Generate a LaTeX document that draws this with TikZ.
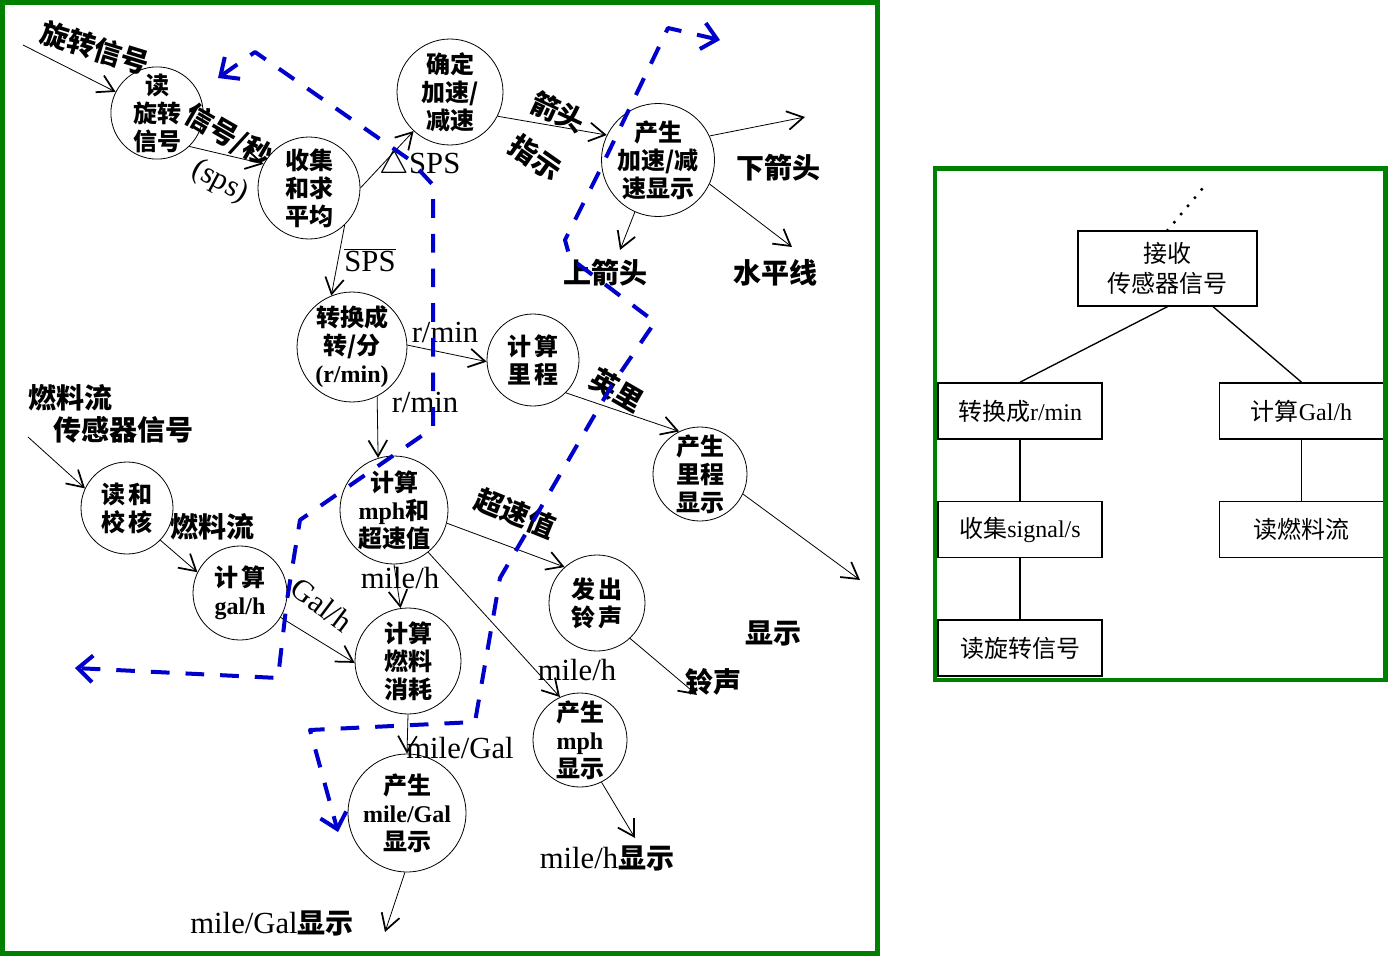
\documentclass[tikz,border=0pt]{standalone}
\usepackage{fontspec}
\setmainfont{Noto Sans CJK SC}
\newfontfamily\latfont{Liberation Serif}
\newcommand{\latn}[1]{{\latfont #1}}
\newcommand{\latbig}[1]{{\fontsize{23}{26}\selectfont\latfont\mdseries #1}}
\usepackage{tikz}
\usetikzlibrary{arrows.meta}
\definecolor{frameGreen}{RGB}{0,128,0}
\definecolor{flowBlue}{RGB}{0,0,205}

\begin{document}
\begin{tikzpicture}[
    x=0.75pt, y=-0.75pt,
    every node/.style={inner sep=0pt},
    proc/.style={circle,draw,line width=0.6pt,minimum size=#1*1.5pt,
                 align=center,font=\fontsize{18}{21}\selectfont\bfseries},
    proc/.default=48,
    lab/.style={font=\fontsize{21}{24}\selectfont\bfseries},
    latlab/.style={font=\fontsize{23}{26}\selectfont\latfont},
    arr/.style={-{Straight Barb[length=12pt,width=14pt,line width=1.3pt]},line width=0.6pt},
    bnd/.style={{Straight Barb[length=11pt,width=20pt]}-{Straight Barb[length=11pt,width=20pt]},
                flowBlue,line width=3pt,dash pattern=on 14pt off 12pt,line join=round},
    mod/.style={rectangle,draw,line width=1.2pt,minimum width=123pt,minimum height=42pt,
                align=center,font=\fontsize{18}{22}\selectfont},
    link/.style={line width=1pt},
    dotline/.style={line width=2.6pt,line cap=round,dash pattern=on 0pt off 8pt}
  ]
  \useasboundingbox (0,0) rectangle (1389,956);
  %% Left panel: the bubbles
  \node[proc=45] (rdsig)    at (157,113) {读\\旋转\\信号};
  \node[proc=51] (colavg)   at (309,188) {收集\\和求\\平均};
  \node[proc=53] (accdec)   at (450,92)  {确定\\加速/\\减速};
  \node[proc=52] (accdisp)  at (658,160) {产生\\加速/减\\速显示};
  \node[proc=50] (torpm)    at (352,347) {转换成\\转/分\\\latn{(r/min)}};
  \node[proc=46] (calcmi)   at (533,360) {计\,算\\里\,程};
  \node[proc=47] (midisp)   at (700,474) {产生\\里程\\显示};
  \node[proc=46] (rdfuel)   at (127,508) {读\,和\\校\,核};
  \node[proc=54] (calcmph)  at (394,510) {计算\\\latn{mph}和\\超速值};
  \node[proc=47] (calcgph)  at (240,593) {计\,算\\\latn{gal/h}};
  \node[proc=48] (bell)     at (597,603) {发\,出\\铃\,声};
  \node[proc=53] (calcfuel) at (408,661) {计算\\燃料\\消耗};
  \node[proc=47] (mphdisp)  at (580,740) {产生\\\latn{mph}\\显示};
  \node[proc=53] (mpgdisp)  at (407,813) {产生\\\latn{mile/Gal}\\显示};
  %% free ends
  \coordinate (rotin)   at (23,45);
  \coordinate (fuelin)  at (28,437);
  \coordinate (dnarr)   at (805,117);
  \coordinate (uparr)   at (620,250);
  \coordinate (hline)   at (792,247);
  \coordinate (miout)   at (860,580);
  \coordinate (bellout) at (697,695);
  \coordinate (mpgout)  at (385,932);
  \coordinate (mphout)  at (635,838);
  %% flows
  \draw[arr] (rotin) -- (rdsig.153);
  \draw[arr] (rdsig.-46) -- (colavg.152);
  \draw[arr] (colavg.0) -- (accdec.227);
  \draw[arr] (colavg.-46) -- (torpm.112);
  \draw[arr] (accdec.-27) -- (accdisp.154);
  \draw[arr] (accdisp.25) -- (dnarr);
  \draw[arr] (accdisp.-114) -- (uparr);
  \draw[arr] (accdisp.-25) -- (hline);
  \draw[arr] (torpm.2) -- (calcmi.182);
  \draw[arr] (torpm.-63) -- (calcmph.107);
  \draw[arr] (calcmi.-45) -- (midisp.116);
  \draw[arr] (midisp.-25) -- (miout);
  \draw[arr] (fuelin) -- (rdfuel.155);
  \draw[arr] (rdfuel.-44) -- (calcgph.154);
  \draw[arr] (calcgph.-31) -- (calcfuel.182);
  \draw[arr] (calcmph.-14) -- (bell.132);
  \draw[arr] (calcmph.-90) -- (calcfuel.98);
  \draw[arr] (calcmph.-51) -- (mphdisp.115);
  \draw[arr] (bell.-47) -- (bellout);
  \draw[arr] (calcfuel.-90) -- (mpgdisp.90);
  \draw[arr] (mpgdisp.-92) -- (mpgout);
  \draw[arr] (mphdisp.-63) -- (mphout);
  %% flow labels
  \node[lab,rotate=-17]    (lrot)   at (95,48)   {旋转信号};
  \node[lab,rotate=-30]    (lsig)   at (228,136) {信号/秒};
  \node[latlab,rotate=-28] (lsps)   at (220,182) {(sps)};
  \node[latlab]            (ldsps)  at (420,165) {$\triangle$SPS};
  \node[latlab]            (lavg)   at (370,260) {$\overline{\hbox{\latfont SPS}}$};
  \node[lab,rotate=-25]    (larr)   at (558,112) {箭头};
  \node[lab,rotate=-35]    (lind)   at (536,158) {指示};
  \node[lab]               (ldn)    at (778,168) {下箭头};
  \node[lab]               (lup)    at (605,273) {上箭头};
  \node[lab]               (lhl)    at (775,273) {水平线};
  \node[latlab]            (lrpma)  at (445,332) {r/min};
  \node[latlab]            (lrpmb)  at (425,402) {r/min};
  \node[lab,rotate=-30]    (lmi)    at (617,390) {英里};
  \node[lab]               (lfa)    at (70,398)  {燃料流};
  \node[lab]               (lfb)    at (123,430) {传感器信号};
  \node[lab]               (lff)    at (212,527) {燃料流};
  \node[latlab,rotate=-37] (lgph)   at (322,605) {Gal/h};
  \node[lab,rotate=-22]    (lover)  at (515,513) {超速值};
  \node[latlab]            (lmpha)  at (400,578) {mile/h};
  \node[latlab]            (lmphb)  at (577,670) {mile/h};
  \node[lab]               (lshow)  at (773,633) {显示};
  \node[lab]               (lbell)  at (713,682) {铃声};
  \node[latlab]            (lmpg)   at (460,748) {mile/Gal};
  \node[lab]               (lmpgd)  at (272,923) {\latbig{mile/Gal}显示};
  \node[lab]               (lmphd)  at (607,858) {\latbig{mile/h}显示};
  %% blue boundaries
  \draw[bnd] (218,78) -- (255,52) -- (410,160) -- (433,185) -- (433,428) -- (300,520)
             -- (287,600) -- (278,678) -- (75,668);
  \draw[bnd] (720,40) -- (668,28) -- (600,170) -- (565,240) -- (570,258) -- (655,322)
             -- (612,385) -- (500,578) -- (475,722) -- (310,730) -- (338,832);
  %% Right panel: structure chart
  \node[mod,minimum width=134pt,minimum height=56pt] (rcv) at (1167.5,268.5) {接收\\传感器信号};
  \node[mod] (rpm) at (1020,411)    {转换成\latn{r/min}};
  \node[mod] (gph) at (1301.5,411)  {计算\latn{Gal/h}};
  \node[mod] (sig) at (1020,529.5)  {收集\latn{signal/s}};
  \node[mod] (rfl) at (1301.5,529.5) {读燃料流};
  \node[mod] (rrd) at (1020,648)    {读旋转信号};
  \coordinate (dots) at (1208,182);
  \draw[dotline] (rcv.north) -- (dots);
  \draw[link] (rcv.south) -- (rpm.north);
  \draw[link] (rcv.-40) -- (gph.north);
  \draw[link] (rpm) -- (sig);
  \draw[link] (sig) -- (rrd);
  \draw[link] (gph) -- (rfl);
  %% frames
  \draw[frameGreen,line width=3.75pt] (2.5,2.5) rectangle (877.5,953);
  \draw[frameGreen,line width=3.4pt] (935,168.5) rectangle (1385.5,680);
\end{tikzpicture}
\end{document}
